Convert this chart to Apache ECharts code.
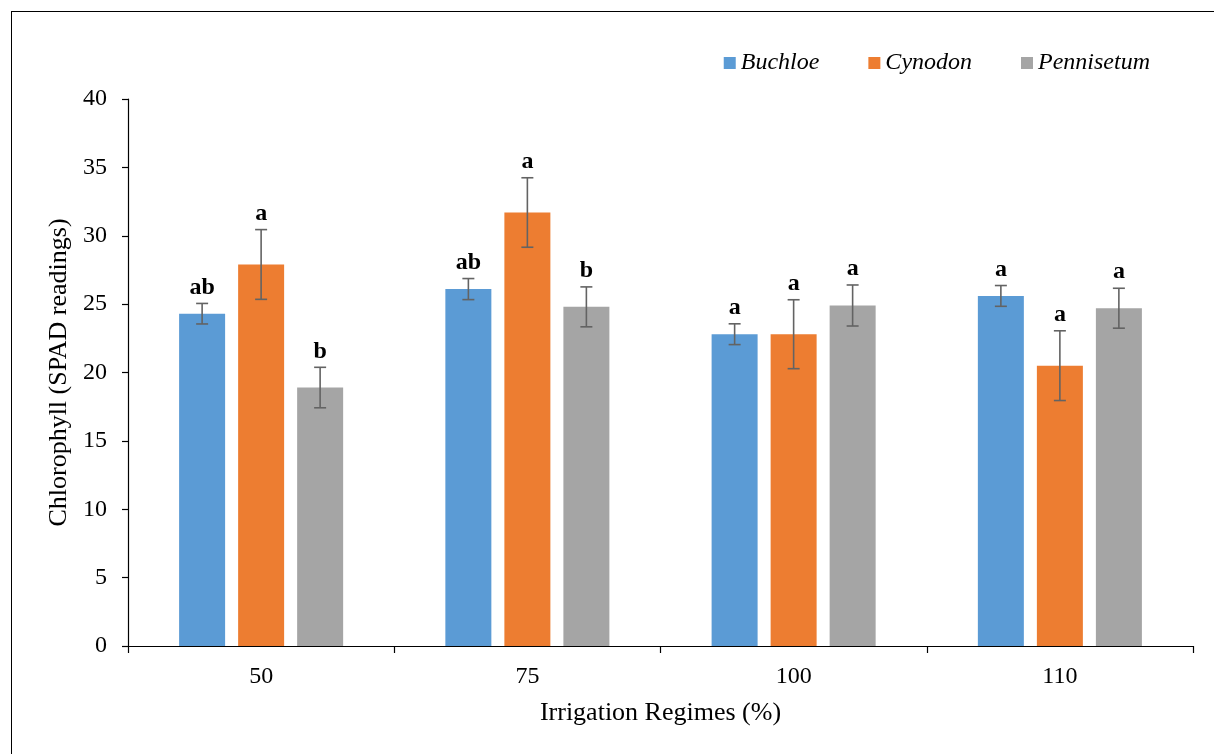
<!DOCTYPE html>
<html>
<head>
<meta charset="utf-8">
<script src="https://cdn.jsdelivr.net/npm/echarts@6/dist/echarts.min.js"></script>
<style>
  html, body { margin: 0; padding: 0; background: #fff; overflow: hidden; }
  #frame { position: absolute; left: 11px; top: 11px; width: 1400px; height: 1000px; border: 1.5px solid #000; box-sizing: border-box; }
  #chart { position: absolute; left: 0; top: 0; width: 1214px; height: 754px; }
</style>
</head>
<body>
<div id="frame"></div>
<div id="chart"></div>
<script>
// Irrigation regimes (% of reference evapotranspiration)
const categories = ['50', '75', '100', '110'];
const speciesNames = ['Buchloe', 'Cynodon', 'Pennisetum'];

// Mean chlorophyll (SPAD) per species
const buchloe = [24.3, 26.1, 22.8, 25.6];
const cynodon = [27.9, 31.7, 22.8, 20.5];
const pennisetum = [18.9, 24.8, 24.9, 24.7];

// Standard errors
const buchloeErr = [0.75, 0.77, 0.76, 0.76];
const cynodonErr = [2.55, 2.54, 2.52, 2.55];
const pennisetumErr = [1.48, 1.46, 1.5, 1.46];

// Mean separation letters
const buchloeLetters = ['ab', 'ab', 'a', 'a'];
const cynodonLetters = ['a', 'a', 'a', 'a'];
const pennisetumLetters = ['b', 'b', 'a', 'a'];

const yTicks = [0, 5, 10, 15, 20, 25, 30, 35, 40];

const colors = ['#5B9BD5', '#ED7D31', '#A5A5A5'];
const means = [buchloe, cynodon, pennisetum];
const errs = [buchloeErr, cynodonErr, pennisetumErr];
const letters = [buchloeLetters, cynodonLetters, pennisetumLetters];

const BAR_W = 46;
const BAR_GAP = 13;
const serif = '"Liberation Serif", "Times New Roman", serif';

const chart = echarts.init(document.getElementById('chart'), null, { renderer: 'canvas' });

const barSeries = speciesNames.map((name, i) => ({
  name: name,
  type: 'bar',
  data: means[i],
  barWidth: BAR_W,
  barGap: (BAR_GAP / BAR_W * 100).toFixed(1) + '%',
  itemStyle: { color: colors[i] },
  z: 2
}));

const errSeries = speciesNames.map((name, i) => ({
  name: name + ' SE',
  type: 'custom',
  z: 5,
  data: categories.map((c, k) => [k, means[i][k], errs[i][k]]),
  renderItem: function (params, api) {
    const k = api.value(0);
    const m = api.value(1);
    const e = api.value(2);
    const letter = letters[i][k];
    const offset = (i - 1) * (BAR_W + BAR_GAP);
    const hi = api.coord([k, m + e]);
    const lo = api.coord([k, m - e]);
    const x = hi[0] + offset;
    const cap = 6;
    const stroke = { stroke: '#636363', lineWidth: 1.6 };
    return {
      type: 'group',
      children: [
        { type: 'line', shape: { x1: x, y1: hi[1], x2: x, y2: lo[1] }, style: stroke },
        { type: 'line', shape: { x1: x - cap, y1: hi[1], x2: x + cap, y2: hi[1] }, style: stroke },
        { type: 'line', shape: { x1: x - cap, y1: lo[1], x2: x + cap, y2: lo[1] }, style: stroke },
        {
          type: 'text',
          style: {
            text: letter, x: x, y: hi[1] - 4,
            align: 'center', verticalAlign: 'bottom',
            font: 'bold 24px ' + serif, fill: '#000'
          }
        }
      ]
    };
  }
}));

chart.setOption({
  animation: false,
  backgroundColor: 'transparent',
  color: colors,
  legend: {
    data: speciesNames,
    right: 59,
    top: 46,
    itemWidth: 12,
    itemHeight: 12,
    itemGap: 49,
    icon: 'rect',
    textStyle: { fontFamily: serif, fontStyle: 'italic', fontSize: 24, color: '#000' }
  },
  grid: { left: 128, right: 21, top: 99, bottom: 108, containLabel: false },
  xAxis: {
    type: 'category',
    data: categories,
    name: 'Irrigation Regimes (%)',
    nameLocation: 'middle',
    nameGap: 54,
    nameTextStyle: { fontFamily: serif, fontSize: 26, color: '#000' },
    axisLine: { lineStyle: { color: '#000', width: 1.2 } },
    axisTick: { show: true, length: 7, alignWithLabel: false, lineStyle: { color: '#000', width: 1.2 } },
    axisLabel: { fontFamily: serif, fontSize: 24, color: '#000', margin: 19 }
  },
  yAxis: {
    type: 'value',
    min: 0,
    max: 40,
    interval: 5,
    name: 'Chlorophyll (SPAD readings)',
    nameLocation: 'middle',
    nameRotate: 90,
    nameGap: 53,
    nameTextStyle: { fontFamily: serif, fontSize: 26, color: '#000' },
    splitLine: { show: false },
    axisLine: { show: true, lineStyle: { color: '#000', width: 1.2 } },
    axisTick: { show: true, inside: false, length: 6, lineStyle: { color: '#000', width: 1.2 } },
    axisLabel: {
      fontFamily: serif, fontSize: 24, color: '#000', margin: 21,
      formatter: v => (yTicks.indexOf(v) >= 0 ? String(v) : '')
    }
  },
  series: barSeries.concat(errSeries)
});
</script>
</body>
</html>
